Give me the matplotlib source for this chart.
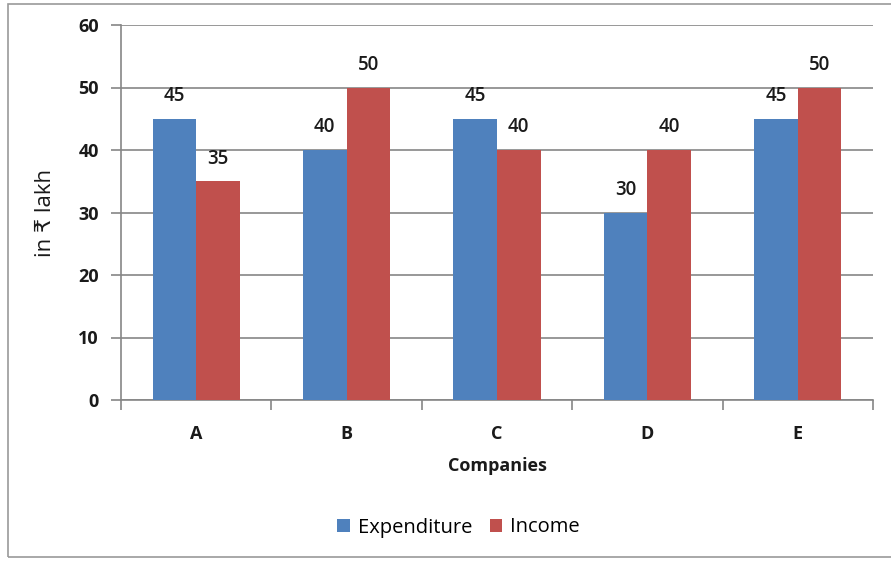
import numpy as np
import matplotlib.pyplot as plt
from matplotlib.patches import Rectangle

plt.rcParams['font.family'] = ['Open Sans', 'DejaVu Sans']

companies = ['A', 'B', 'C', 'D', 'E']
expenditure = [45, 40, 45, 30, 45]
income = [35, 50, 40, 40, 50]

blue = '#4F81BD'
red = '#C0504D'
grid_col = '#868686'

fig = plt.figure(figsize=(8.91, 5.61), dpi=100)
ax = fig.add_axes([121 / 891, 1 - 400 / 561, (873 - 121) / 891, (400 - 25) / 561])

# chart border
fig.patches.append(Rectangle((8 / 891, 4 / 561), 1.2, 553 / 561, transform=fig.transFigure,
                             fill=False, edgecolor='#9a9a9a', linewidth=1.2))

x = np.arange(len(companies))
w = 0.29
b1 = ax.bar(x - w / 2, expenditure, w, color=blue, label='Expenditure', zorder=3)
b2 = ax.bar(x + w / 2, income, w, color=red, label='Income', zorder=3)

for bars in (b1, b2):
    for b in bars:
        ax.text(b.get_x() + b.get_width() / 2, b.get_height() + 2.0, f'{int(b.get_height())}',
                ha='center', va='bottom', fontsize=13.5, fontweight='semibold', color='#1a1a1a')

ax.set_xlim(-0.5, len(companies) - 0.5)
ax.set_ylim(0, 60)
ax.set_yticks(range(0, 61, 10))
ax.yaxis.grid(True, color=grid_col, linewidth=1.2, zorder=0)
ax.set_axisbelow(True)

ax.set_xticks(x)
ax.set_xticklabels(companies, fontsize=13, fontweight='bold', color='#1a1a1a')
ax.set_xticks(np.arange(-0.5, len(companies)), minor=True)
ax.tick_params(axis='x', which='major', length=0, pad=18)
ax.tick_params(axis='x', which='minor', length=7, width=1.2, color=grid_col)
ax.tick_params(axis='y', length=7, width=1.2, color=grid_col, pad=9)
for lab in ax.get_yticklabels():
    lab.set_fontsize(13)
    lab.set_fontweight('bold')
    lab.set_color('#1a1a1a')

for s in ['top', 'right']:
    ax.spines[s].set_visible(False)
for s in ['left', 'bottom']:
    ax.spines[s].set_color(grid_col)
    ax.spines[s].set_linewidth(1.2)

ax.set_xlabel('Companies', fontsize=13, fontweight='bold', color='#1a1a1a', labelpad=10)
ax.set_ylabel('in ₹ lakh', fontsize=16, color='#1a1a1a', labelpad=16)

ax.legend(loc='upper center', bbox_to_anchor=(0.449, -0.265), ncol=2, frameon=False,
          fontsize=14.5, handlelength=0.6, handleheight=0.6, columnspacing=0.9, handletextpad=0.4)

fig.savefig('out.png', dpi=100)
